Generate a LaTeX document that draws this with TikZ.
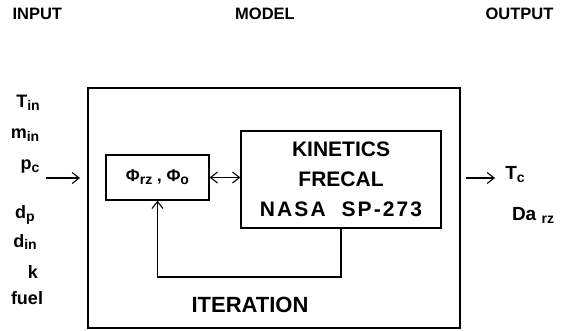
\documentclass[tikz,border=0pt]{standalone}
\usepackage{fontspec}
\setmainfont{Liberation Sans}
\usetikzlibrary{arrows.meta}
\newcommand{\lowsub}[1]{\raisebox{-0.3ex}{\fontsize{14}{14}\selectfont\bfseries #1}}

\begin{document}
\begin{tikzpicture}[x=1pt, y=-1pt, >={Straight Barb[length=7pt,width=11pt]},
		heading/.style={font=\fontsize{16.5}{16.5}\selectfont\bfseries},
		invar/.style={font=\fontsize{18}{18}\selectfont\bfseries},
		outvar/.style={font=\fontsize{19}{19}\selectfont\bfseries},
		block/.style={draw, line width=1.3pt, inner sep=0pt},
		flow/.style={line width=1.1pt}]
		\useasboundingbox (0,0) rectangle (561,330);

		% headings
		\node[heading, anchor=west] (hin) at (9,14) {INPUT};
		\node[heading] (hmod) at (265,14) {MODEL};
		\node[heading, anchor=east] (hout) at (557,14) {OUTPUT};

		% model
		\node[block, minimum width=372pt, minimum height=240pt] (model) at (274,208) {};
		\node[block, minimum width=103pt, minimum height=45pt,
			font=\fontsize{17}{17}\selectfont\bfseries] (phi) at (157.5,177.5) {Φ\lowsub{rz} , Φ\lowsub{o}};
		\node[block, minimum width=200pt, minimum height=97pt, align=center,
			font=\fontsize{21}{30}\selectfont\bfseries] (kin) at (341,179.5)
			{KINETICS\\FRECAL\\{\addfontfeature{LetterSpace=10}NASA\ \ SP-273}};
		\node[font=\fontsize{22}{22}\selectfont\bfseries] (iter) at (250,305) {ITERATION};

		\draw[<->, flow] (phi.east) -- (phi.east -| kin.west);
		\coordinate (loop) at (250,277);
		\draw[->, flow] (kin.south) |- (loop) -| (phi.south);

		% inputs
		\foreach \txt/\x/\y [count=\i] in {T\lowsub{in}/28/103, m\lowsub{in}/25/135,
				p\lowsub{c}/30/167, d\lowsub{p}/25/215, d\lowsub{in}/25/242,
				k/33/272, fuel/27/298}
			\node[invar] (in\i) at (\x,\y) {\txt};
		\coordinate (inA) at (46,178);
		\coordinate (inB) at (80,178);
		\draw[->, flow] (inA) -- (inB);

		% outputs
		\node[outvar] (out1) at (515,175) {T\lowsub{c}};
		\node[outvar] (out2) at (533,215) {Da \lowsub{rz}};
		\coordinate (outA) at (466,178);
		\coordinate (outB) at (495,178);
		\draw[->, flow] (outA) -- (outB);
	\end{tikzpicture}
\end{document}
